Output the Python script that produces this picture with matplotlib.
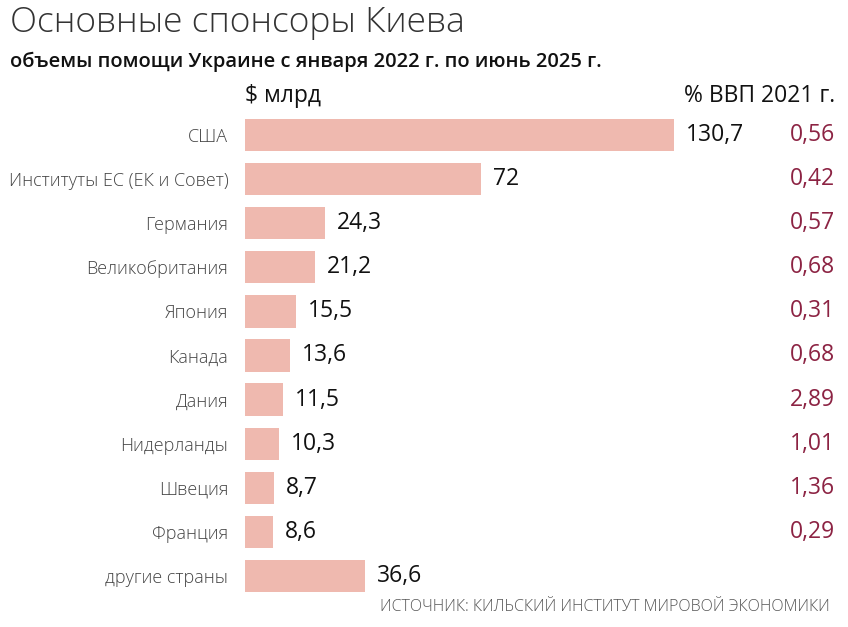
import matplotlib
matplotlib.use("Agg")
import matplotlib.pyplot as plt
import matplotlib.transforms as mtransforms

plt.rcParams['font.family'] = ['Open Sans', 'DejaVu Sans']

countries = ['США', 'Институты ЕС (ЕК и Совет)', 'Германия', 'Великобритания', 'Япония',
             'Канада', 'Дания', 'Нидерланды', 'Швеция', 'Франция', 'другие страны']
aid_bn = [130.7, 72, 24.3, 21.2, 15.5, 13.6, 11.5, 10.3, 8.7, 8.6, 36.6]
aid_labels = ['130,7', '72', '24,3', '21,2', '15,5', '13,6', '11,5', '10,3', '8,7', '8,6', '36,6']
gdp_share = ['0,56', '0,42', '0,57', '0,68', '0,31', '0,68', '2,89', '1,01', '1,36', '0,29', '']

bar_color = '#EFB9AF'
pct_color = '#8C2343'

W, H = 848, 627
fig = plt.figure(figsize=(W / 100, H / 100), dpi=100)

# axes in pixel units: bars start at x=245, rows 113..598 from top
left, right, top, bottom = 245, 848, 113, 598
ax = fig.add_axes([left / W, 1 - bottom / H, (right - left) / W, (bottom - top) / H])
px_per_unit = 429 / 130.7
ax.set_xlim(0, (right - left) / px_per_unit)
ax.set_ylim(len(countries) - 0.5, -0.5)

ypos = list(range(len(countries)))
ax.barh(ypos, aid_bn, height=0.73, color=bar_color)

for y, v, lab in zip(ypos, aid_bn, aid_labels):
    ax.text(v + 12 / px_per_unit, y, lab, va='center', ha='left',
            fontsize=16.5, fontweight='medium', color='#111111')

trans = mtransforms.blended_transform_factory(fig.transFigure, ax.transData)
for y, p in zip(ypos, gdp_share):
    ax.text(835 / W, y, p, transform=trans, va='center', ha='right',
            fontsize=16.5, color=pct_color)

ax.set_yticks(ypos)
ax.set_yticklabels(countries, fontsize=13, color='#444444', fontweight='light')
ax.tick_params(axis='y', length=0, pad=12)
ax.set_xticks([])
for s in ax.spines.values():
    s.set_visible(False)

fig.text(10 / W, 1 - 23 / H, 'Основные спонсоры Киева', fontsize=25.5, fontweight='light',
         color='#333333', va='center', ha='left')
fig.text(10 / W, 1 - 62 / H, 'объемы помощи Украине с января 2022 г. по июнь 2025 г.',
         fontsize=14.5, fontweight='semibold', color='#111111', va='center', ha='left')
fig.text(245 / W, 1 - 96 / H, '$ млрд', fontsize=16.5, color='#111111', va='center', ha='left')
fig.text(835 / W, 1 - 96 / H, '% ВВП 2021 г.', fontsize=16.5, color='#111111',
         va='center', ha='right')
fig.text(830 / W, 1 - 607 / H, 'ИСТОЧНИК: КИЛЬСКИЙ ИНСТИТУТ МИРОВОЙ ЭКОНОМИКИ',
         fontsize=11.5, fontweight='light', color='#555555', va='center', ha='right')

fig.savefig('out.png', dpi=100)
